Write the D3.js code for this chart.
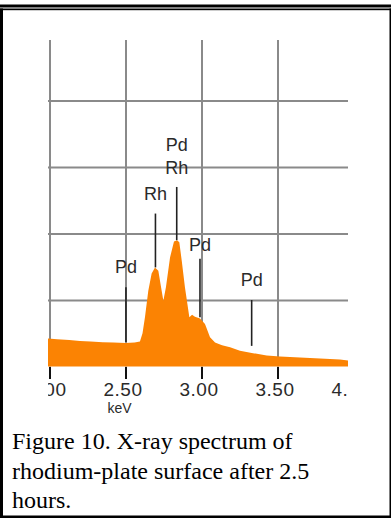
<!DOCTYPE html>
<html>
<head>
<meta charset="utf-8">
<script src="https://cdn.jsdelivr.net/npm/d3@7"></script>
<style>
  html, body { margin: 0; padding: 0; background: #fff; }
  svg { display: block; }
</style>
</head>
<body>
<div id="chart-container"></div>
<script>
// spectrum (energy in keV, counts in grid units)
const energies = [1.99, 2.05, 2.13, 2.20, 2.27, 2.35, 2.42, 2.50, 2.56, 2.595, 2.612, 2.628, 2.65, 2.672,
  2.694, 2.716, 2.734, 2.749, 2.766, 2.793, 2.819, 2.839, 2.854, 2.870, 2.891, 2.920, 2.938, 2.957,
  2.990, 3.023, 3.056, 3.089, 3.135, 3.188, 3.253, 3.339, 3.429, 3.516, 3.648, 3.780, 3.911, 3.964];
const counts = [0.42, 0.41, 0.40, 0.385, 0.375, 0.365, 0.36, 0.355, 0.36, 0.375, 0.50, 0.74, 1.14, 1.40,
  1.49, 1.44, 1.19, 0.99, 1.19, 1.64, 1.88, 1.90, 1.87, 1.59, 1.19, 0.74, 0.78, 0.75,
  0.72, 0.64, 0.44, 0.36, 0.32, 0.29, 0.235, 0.20, 0.165, 0.15, 0.135, 0.12, 0.105, 0.09];

const xTicks = [2.0, 2.5, 3.0, 3.5, 4.0];
const yGrid = [1, 2, 3, 4];

// element markers
const markerKeV = [2.503, 2.697, 2.837, 2.990, 3.330];
const markerLabels = [["Pd"], ["Rh"], ["Pd", "Rh"], ["Pd"], ["Pd"]];
const markerTop = [1.19, 2.30, 2.70, 1.62, 1.00];
const markerBottom = [0.37, 1.49, 1.90, 0.74, 0.31];
const markerText = [1.40, 2.50, 2.90, 1.74, 1.21];

const caption = ["Figure 10. X-ray spectrum of", "rhodium-plate surface after 2.5", "hours."];

const width = 391, height = 518;
const plot = { left: 48, right: 348, top: 40, base: 366.5 };

const x = d3.scaleLinear().domain([2, 4]).range([49.5, 353.5]);
const y = d3.scaleLinear().domain([0, 4.9]).range([plot.base, plot.base - 4.9 * 66.5]);

const svg = d3.select("#chart-container").append("svg")
  .attr("width", width).attr("height", height);

// page frame
svg.append("rect").attr("x", 0).attr("y", 4.5).attr("width", width).attr("height", 3).attr("fill", "#000");
svg.append("rect").attr("x", 0).attr("y", 8.5).attr("width", width).attr("height", 1.7).attr("fill", "#000");
svg.append("rect").attr("x", 0).attr("y", 8.5).attr("width", 3).attr("height", height - 8.5).attr("fill", "#000");
svg.append("rect").attr("x", 389.5).attr("y", 8.5).attr("width", 1.5).attr("height", height - 8.5).attr("fill", "#000");
svg.append("rect").attr("x", 0).attr("y", 515.5).attr("width", width).attr("height", 2.5).attr("fill", "#000");

svg.append("defs").append("clipPath").attr("id", "clip")
  .append("rect").attr("x", plot.left).attr("y", plot.top)
  .attr("width", plot.right - plot.left).attr("height", 380);

const g = svg.append("g").attr("clip-path", "url(#clip)");

// grid
g.append("g")
  .attr("transform", `translate(0, ${plot.base})`)
  .call(d3.axisBottom(x).tickValues(xTicks).tickSize(-(plot.base - plot.top)).tickFormat(""))
  .call(a => a.select(".domain").remove())
  .call(a => a.selectAll("line").attr("stroke", "#8a8a8a").attr("stroke-width", 2));

g.append("g")
  .attr("transform", `translate(${plot.left}, 0)`)
  .call(d3.axisLeft(y).tickValues(yGrid).tickSize(-(plot.right - plot.left)).tickFormat(""))
  .call(a => a.select(".domain").remove())
  .call(a => a.selectAll("line").attr("stroke", "#8a8a8a").attr("stroke-width", 2));

// spectrum
const spectrum = energies.map((e, i) => ({ e, c: counts[i] }));
g.append("path")
  .datum(spectrum)
  .attr("fill", "#fb8303")
  .attr("d", d3.area().x(d => x(d.e)).y0(y(0)).y1(d => y(d.c)));

// markers
markerKeV.forEach((k, i) => {
  g.append("line")
    .attr("x1", x(k)).attr("x2", x(k))
    .attr("y1", y(markerTop[i])).attr("y2", y(markerBottom[i]))
    .attr("stroke", "#222").attr("stroke-width", 1.6);
  const lines = markerLabels[i];
  lines.forEach((t, j) => {
    g.append("text")
      .attr("x", x(k)).attr("y", y(markerText[i]) - (lines.length - 1 - j) * 23)
      .attr("text-anchor", "middle")
      .attr("font-family", "'Liberation Sans', Arial, sans-serif")
      .attr("font-size", 18).attr("fill", "#2a2a2a")
      .text(t);
  });
});

// axis ticks and labels
g.append("g")
  .attr("transform", `translate(0, ${plot.base + 0.5})`)
  .call(d3.axisBottom(x).tickValues(xTicks).tickSize(12).tickPadding(4).tickFormat(d3.format(".2f")))
  .call(a => a.select(".domain").remove())
  .call(a => a.selectAll("line").attr("stroke", "#111").attr("stroke-width", 2))
  .call(a => a.selectAll("text")
    .attr("dx", -3)
    .attr("letter-spacing", 0.5)
    .attr("font-family", "'Liberation Sans', Arial, sans-serif")
    .attr("font-size", 19).attr("fill", "#2a2a2a"));

g.append("text")
  .attr("x", x(2.5) - 6).attr("y", 413)
  .attr("text-anchor", "middle")
  .attr("font-family", "'Liberation Sans', Arial, sans-serif")
  .attr("font-size", 14).attr("fill", "#2a2a2a")
  .text("keV");

// caption
svg.append("g").selectAll("text")
  .data(caption)
  .enter()
  .append("text")
  .attr("x", 12)
  .attr("y", (d, i) => 449 + i * 29.5)
  .attr("font-family", "'Liberation Serif', 'Times New Roman', serif")
  .attr("font-size", 24)
  .attr("fill", "#000")
  .text(d => d);
</script>
</body>
</html>
